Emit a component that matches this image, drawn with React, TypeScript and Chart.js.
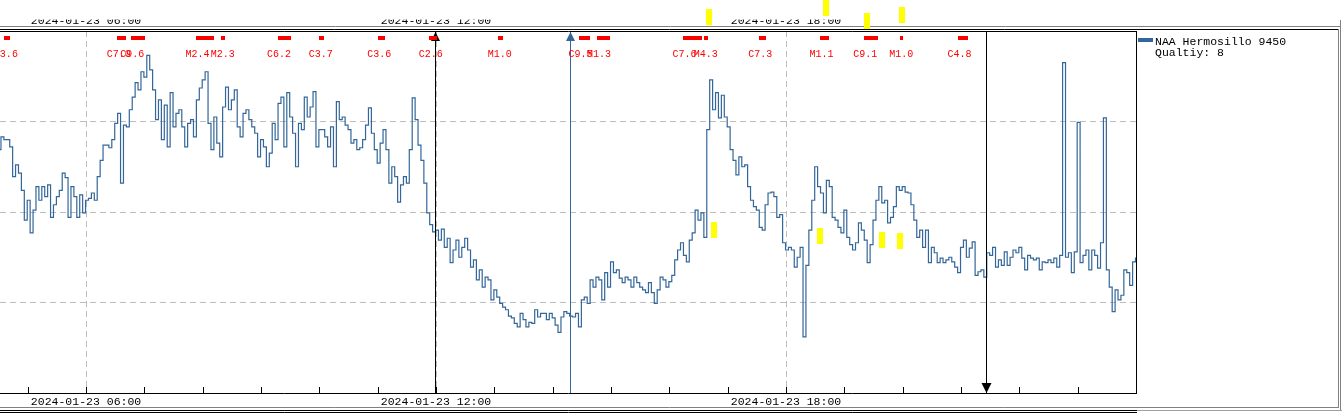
import React, { useEffect, useRef } from 'react';
import { Chart, registerables } from 'chart.js';

Chart.register(...registerables);

// ---------- data ----------
const DAY = '2024-01-23';
const STATION = 'NAA Hermosillo 9450';
const QUALITY = 'Qualtiy: 8';

// x axis in minutes of the day
const X_MIN = 271.5;
const X_MAX = 1440;
const SERIES_START_MIN = 271;
const SERIES_STEP_MIN = 3;

const Y_MIN = 0;
const Y_MAX = 400;
const Y_GRID = [100, 200, 300];

const HOUR_TICKS = [5, 6, 7, 8, 9, 10, 11, 12, 13, 14, 15, 16, 17, 18, 19, 20, 21, 22, 23];
const LABEL_HOURS = [6, 12, 18];

// received amplitude (arbitrary units), one value every 3 minutes
const amplitude = [
  269, 283, 280, 280, 272, 239, 252, 243, 224, 191, 213, 177,
  202, 228, 213, 228, 217, 230, 194, 208, 217, 224, 243, 238,
  194, 228, 217, 194, 219, 199, 213, 215, 221, 213, 239, 257,
  274, 274, 271, 280, 298, 309, 232, 296, 294, 313, 327, 343,
  335, 355, 349, 373, 357, 335, 302, 324, 280, 318, 272, 332,
  294, 309, 313, 294, 272, 298, 302, 283, 324, 337, 346, 355,
  298, 269, 305, 276, 261, 316, 338, 313, 324, 335, 294, 283,
  309, 313, 302, 294, 287, 261, 280, 272, 250, 265, 298, 280,
  320, 327, 272, 332, 305, 287, 250, 298, 291, 327, 305, 316,
  333, 272, 291, 291, 283, 272, 294, 250, 322, 302, 305, 296,
  291, 276, 280, 269, 271, 280, 296, 315, 287, 269, 254, 276,
  291, 269, 232, 250, 239, 211, 230, 239, 232, 269, 326, 302,
  274, 257, 232, 199, 186, 178, 180, 169, 181, 161, 171, 144,
  158, 169, 150, 161, 171, 158, 139, 147, 125, 136, 117, 128,
  125, 103, 114, 106, 99, 95, 92, 85, 83, 77, 73, 88,
  81, 73, 78, 77, 92, 84, 88, 88, 81, 88, 83, 75,
  67, 84, 90, 88, 85, 84, 88, 73, 103, 106, 99, 125,
  117, 128, 125, 103, 133, 117, 145, 133, 136, 127, 122, 128,
  125, 117, 128, 122, 117, 114, 111, 122, 111, 99, 114, 128,
  125, 117, 123, 130, 147, 158, 166, 152, 145, 169, 177, 202,
  191, 199, 172, 291, 346, 313, 332, 304, 329, 305, 294, 269,
  257, 241, 261, 250, 252, 228, 213, 206, 202, 183, 180, 208,
  221, 222, 217, 194, 197, 166, 158, 161, 158, 139, 150, 161,
  62, 141, 180, 213, 250, 228, 221, 199, 235, 228, 194, 191,
  183, 177, 202, 172, 164, 158, 166, 188, 180, 169, 144, 164,
  191, 213, 228, 210, 213, 188, 194, 206, 228, 224, 228, 222,
  221, 208, 191, 172, 180, 161, 180, 144, 161, 155, 144, 149,
  144, 147, 150, 145, 139, 133, 161, 169, 150, 160, 167, 130,
  134, 136, 128, 155, 152, 161, 139, 147, 141, 156, 141, 150,
  158, 155, 161, 149, 136, 152, 149, 147, 149, 136, 145, 144,
  147, 144, 149, 139, 152, 365, 150, 155, 133, 156, 299, 144,
  152, 158, 136, 158, 152, 138, 166, 304, 136, 117, 90, 114,
  103, 108, 136, 133, 119, 145, 149,
];

// solar flare events (start, end, class)
const flareStart = ['04:36', '06:32', '06:46', '07:53', '08:19', '09:17', '10:00', '11:00', '11:53', '13:04', '14:27', '14:46', '16:14', '16:36', '17:32', '18:35', '19:20', '19:57', '20:57'];
const flareEnd = ['04:42', '06:41', '07:01', '08:12', '08:23', '09:31', '10:05', '11:08', '12:01', '13:09', '14:38', '14:59', '16:34', '16:40', '17:39', '18:44', '19:35', '20:00', '21:07'];
const flareClass = ['C3.6', 'C7.0', 'C9.6', 'M2.4', 'M2.3', 'C6.2', 'C3.7', 'C3.6', 'C2.6', 'M1.0', 'C9.5', 'M1.3', 'C7.6', 'M4.3', 'C7.3', 'M1.1', 'C9.1', 'M1.0', 'C4.8'];

// yellow event markers (time, level)
const markTime = ['16:41', '18:41', '19:23', '19:59', '16:46', '18:35', '19:39', '19:57'];
const markLevel = [416, 425, 411, 418, 180, 173, 169, 168];

// terminator lines (time, kind)
const termTime = ['11:59', '14:18', '21:26'];
const termKind = ['txUp', 'rxUp', 'txDown'];

// ---------- helpers ----------
const MONO = '"Liberation Mono", "DejaVu Sans Mono", monospace';
const LINE_BLUE = '#336699';
const toMin = (s: string) => {
  const [h, m] = s.split(':').map(Number);
  return h * 60 + m;
};
const fmtHour = (h: number) => `${DAY} ${String(h).padStart(2, '0')}:00`;

const overlay = {
  id: 'overlay',
  beforeDatasetsDraw(chart: any) {
    const { ctx, chartArea: a, scales } = chart;
    const x = scales.x;
    const y = scales.y;
    ctx.save();
    ctx.lineWidth = 1;
    ctx.strokeStyle = '#bdbdbd';
    ctx.setLineDash([6, 4]);
    Y_GRID.forEach((v) => {
      const py = Math.floor(y.getPixelForValue(v)) + 0.5;
      ctx.beginPath();
      ctx.moveTo(a.left, py);
      ctx.lineTo(a.right, py);
      ctx.stroke();
    });
    LABEL_HOURS.forEach((h) => {
      const px = Math.round(x.getPixelForValue(h * 60)) + 0.5;
      ctx.beginPath();
      ctx.moveTo(px, a.top);
      ctx.lineTo(px, a.bottom);
      ctx.stroke();
    });
    ctx.restore();
  },
  afterDatasetsDraw(chart: any) {
    const { ctx, chartArea: a, scales, width: W } = chart;
    const x = scales.x;
    const y = scales.y;
    const top = Math.round(a.top);
    const bottom = Math.round(a.bottom);
    const right = Math.round(a.right);
    const px = (t: string) => x.getPixelForValue(toMin(t));
    const hl = (x1: number, x2: number, row: number, c: string) => {
      ctx.strokeStyle = c;
      ctx.beginPath();
      ctx.moveTo(x1, row + 0.5);
      ctx.lineTo(x2, row + 0.5);
      ctx.stroke();
    };
    const vl = (col: number, y1: number, y2: number, c: string) => {
      ctx.strokeStyle = c;
      ctx.beginPath();
      ctx.moveTo(col + 0.5, y1);
      ctx.lineTo(col + 0.5, y2);
      ctx.stroke();
    };
    ctx.save();
    ctx.lineWidth = 1;
    ctx.setLineDash([]);

    // terminator lines with arrows
    termTime.forEach((t, i) => {
      const kind = termKind[i];
      const color = kind === 'rxUp' ? LINE_BLUE : '#000000';
      const col = Math.round(px(t));
      const cx = col + 0.5;
      vl(col, top, bottom, color);
      ctx.fillStyle = color;
      ctx.beginPath();
      if (kind === 'txDown') {
        ctx.moveTo(cx, bottom);
        ctx.lineTo(cx - 5, bottom - 10);
        ctx.lineTo(cx + 5, bottom - 10);
      } else {
        ctx.moveTo(cx, top + 1);
        ctx.lineTo(cx - 4.5, top + 10);
        ctx.lineTo(cx + 4.5, top + 10);
      }
      ctx.closePath();
      ctx.fill();
    });

    // hour ticks inside the plot
    HOUR_TICKS.forEach((h) => {
      const col = Math.round(x.getPixelForValue(h * 60));
      vl(col, bottom - 6, bottom, '#000000');
    });

    // frames
    hl(0, 1341, 26, '#808080');
    hl(0, 1339, 29, '#000000');
    hl(0, right + 1, top, '#000000');
    vl(right, top, bottom + 1, '#000000');
    hl(0, right + 1, bottom, '#000000');
    vl(1340, 20, 410, '#808080');
    vl(1338, 29, 408, '#808080');
    hl(0, 1339, 407, '#808080');
    hl(0, 1342, 410, '#a0a0a0');
    hl(0, right + 1, 410, '#000000');
    hl(0, right + 1, 412, '#000000');

    // time labels
    ctx.font = `11.5px ${MONO}`;
    ctx.fillStyle = '#000000';
    ctx.textAlign = 'center';
    ctx.textBaseline = 'alphabetic';
    LABEL_HOURS.forEach((h) => ctx.fillText(fmtHour(h), x.getPixelForValue(h * 60), 405));
    ctx.save();
    ctx.beginPath();
    ctx.rect(0, 19.5, W, 6.5);
    ctx.clip();
    LABEL_HOURS.forEach((h) => ctx.fillText(fmtHour(h), x.getPixelForValue(h * 60), 24));
    ctx.restore();

    // flares
    ctx.fillStyle = '#ff0000';
    flareStart.forEach((s, i) => {
      const x1 = Math.round(px(s));
      const x2 = Math.round(px(flareEnd[i]));
      ctx.fillRect(x1, 36, Math.max(2, x2 - x1), 4);
    });
    ctx.font = `10px ${MONO}`;
    flareClass.forEach((c, i) => ctx.fillText(c, px(flareStart[i]) + 1.5, 57));

    // yellow markers
    ctx.fillStyle = '#ffff00';
    markTime.forEach((t, i) => {
      const cx = Math.round(px(t));
      const cy = Math.round(y.getPixelForValue(markLevel[i]));
      ctx.fillRect(cx - 3, cy - 8, 6, 16);
    });

    // legend
    ctx.fillStyle = LINE_BLUE;
    ctx.fillRect(right + 2, 38, 15, 4);
    ctx.fillStyle = '#000000';
    ctx.textAlign = 'left';
    ctx.font = `11.5px ${MONO}`;
    ctx.fillText(STATION, right + 19, 44.5);
    ctx.fillText(QUALITY, right + 19, 56);

    ctx.restore();
  },
};

export default function App() {
  const ref = useRef<HTMLCanvasElement | null>(null);
  useEffect(() => {
    if (!ref.current) return;
    const points = amplitude.map((v, i) => ({ x: SERIES_START_MIN + i * SERIES_STEP_MIN, y: v }));
    const chart = new Chart(ref.current, {
      type: 'line',
      data: {
        datasets: [
          {
            label: STATION,
            data: points,
            borderColor: LINE_BLUE,
            backgroundColor: LINE_BLUE,
            borderWidth: 1.2,
            pointRadius: 0,
            stepped: 'middle',
            fill: false,
          },
        ],
      },
      options: {
        animation: false,
        responsive: false,
        devicePixelRatio: 1,
        events: [],
        layout: { padding: { left: 0, top: 31, right: 206, bottom: 20 } },
        plugins: { legend: { display: false }, title: { display: false }, tooltip: { enabled: false } },
        scales: {
          x: { type: 'linear', min: X_MIN, max: X_MAX, display: false },
          y: { type: 'linear', min: Y_MIN, max: Y_MAX, display: false },
        },
      },
      plugins: [overlay],
    });
    return () => chart.destroy();
  }, []);
  return (
    <div style={{ position: 'absolute', left: 0, top: 0, width: 1342, height: 413, background: '#fff' }}>
      <canvas ref={ref} width={1342} height={413} />
    </div>
  );
}
